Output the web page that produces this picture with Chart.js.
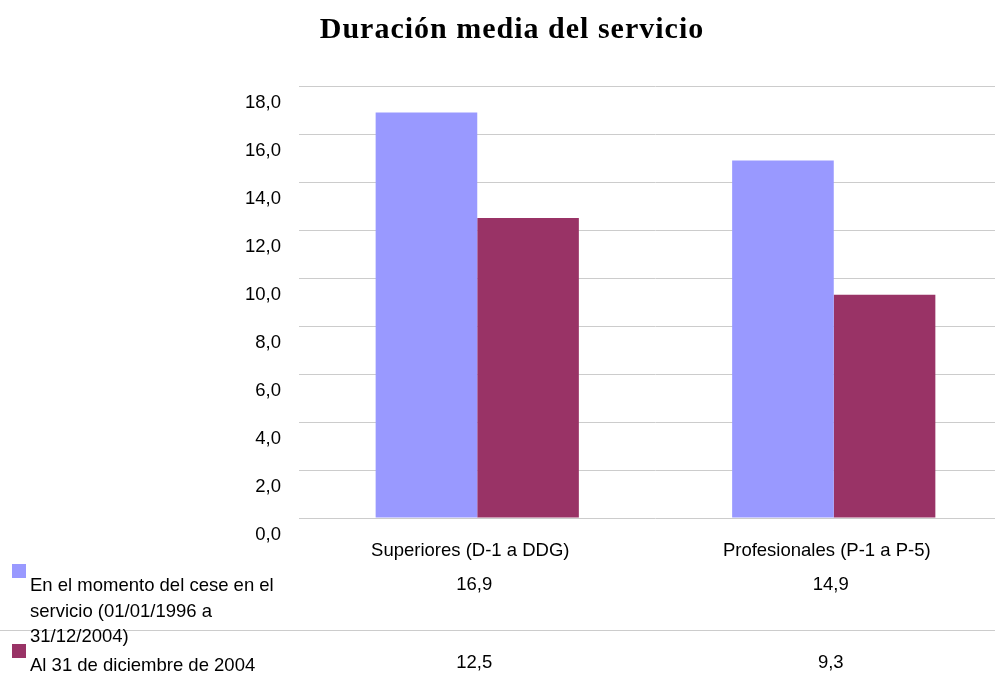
<!DOCTYPE html>
<html>
<head>
<meta charset="utf-8">
<script src="https://cdn.jsdelivr.net/npm/chart.js@4"></script>
<style>
  html, body { margin: 0; padding: 0; background: #fff; overflow: hidden; }
  #wrap { width: 1012px; height: 673px; }
</style>
</head>
<body>
<div id="wrap"><canvas id="c" width="1012" height="673"></canvas></div>
<script>
const chartTitle = 'Duración media del servicio';
const categories = ['Superiores (D-1 a DDG)', 'Profesionales (P-1 a P-5)'];
const seriesNames = ['En el momento del cese en el servicio (01/01/1996 a 31/12/2004)', 'Al 31 de diciembre de 2004'];
const seriesCese = [16.9, 14.9];
const seriesDic2004 = [12.5, 9.3];
const seriesColors = ['#9999FF', '#993366'];
const yMin = 0, yMax = 18, yStep = 2;

const FONT = '"Liberation Sans", Arial, Helvetica, sans-serif';
const fmt = v => Number(v).toFixed(1).replace('.', ',');

function wrapText(ctx, text, maxW) {
  const words = text.split(' ');
  const lines = [];
  let cur = '';
  for (const w of words) {
    const t = cur ? cur + ' ' + w : w;
    if (ctx.measureText(t).width > maxW && cur) { lines.push(cur); cur = w; }
    else cur = t;
  }
  if (cur) lines.push(cur);
  return lines;
}

const tablePlugin = {
  id: 'dataTable',
  afterLayout(chart) {
    const tb = chart.titleBlock;
    if (tb && !tb._patched) {
      const orig = tb.draw;
      tb.draw = function (a) {
        const ctx = this.ctx;
        ctx.save();
        ctx.translate(6, 2);
        ctx.letterSpacing = '1px';
        orig.call(this, a);
        ctx.restore();
      };
      tb._patched = true;
    }
  },
  afterDraw(chart) {
    const ctx = chart.ctx;
    const xs = chart.scales.x;
    ctx.save();
    // row separator
    ctx.strokeStyle = '#cccccc';
    ctx.lineWidth = 1;
    ctx.beginPath();
    ctx.moveTo(0, 630.5);
    ctx.lineTo(chart.width, 630.5);
    ctx.stroke();

    ctx.font = '18.5px ' + FONT;
    ctx.fillStyle = '#000';
    ctx.textBaseline = 'middle';
    const valueY = [585, 663];
    const textY = [586, 666];
    chart.data.datasets.forEach((ds, i) => {
      // legend swatch
      ctx.fillStyle = ds.backgroundColor;
      ctx.fillRect(12, textY[i] - 22, 14, 14);
      ctx.fillStyle = '#000';
      ctx.textAlign = 'left';
      const lines = wrapText(ctx, ds.label, 260);
      lines.forEach((ln, k) => ctx.fillText(ln, 30, textY[i] + k * 25.5));
      // values
      ctx.textAlign = 'center';
      ds.data.forEach((v, j) => {
        ctx.fillText(fmt(v), xs.getPixelForValue(j) - 3, valueY[i]);
      });
    });
    ctx.restore();
  }
};

new Chart(document.getElementById('c'), {
  type: 'bar',
  data: {
    labels: categories,
    datasets: [
      { label: seriesNames[0], data: seriesCese, backgroundColor: seriesColors[0] },
      { label: seriesNames[1], data: seriesDic2004, backgroundColor: seriesColors[1] }
    ]
  },
  options: {
    responsive: false,
    animation: false,
    devicePixelRatio: 1,
    layout: { padding: 0 },
    datasets: { bar: { categoryPercentage: 0.57, barPercentage: 1.0, borderWidth: 0 } },
    plugins: {
      legend: { display: false },
      tooltip: { enabled: false },
      title: {
        display: true,
        text: chartTitle,
        color: '#000',
        font: { family: '"Liberation Serif", "Times New Roman", serif', size: 30, weight: 'bold' },
        padding: { top: 10, bottom: 40 }
      }
    },
    scales: {
      x: {
        grid: { display: false, drawTicks: false },
        border: { display: false },
        ticks: { color: '#000', font: { family: FONT, size: 18.5 }, padding: 22, labelOffset: -7, maxRotation: 0, autoSkip: false },
        afterFit(s) { s.height = 155; s.paddingLeft = 0; s.paddingRight = 0; }
      },
      y: {
        min: yMin, max: yMax,
        grid: { color: '#cccccc', lineWidth: 1, drawTicks: false },
        border: { display: false },
        ticks: {
          stepSize: yStep, color: '#000', padding: 18, labelOffset: 17,
          font: { family: FONT, size: 18.5 },
          callback: v => fmt(v)
        },
        afterFit(s) { s.width = 299; s.paddingTop = 0; s.paddingBottom = 0; }
      }
    }
  },
  plugins: [tablePlugin]
});
</script>
</body>
</html>
